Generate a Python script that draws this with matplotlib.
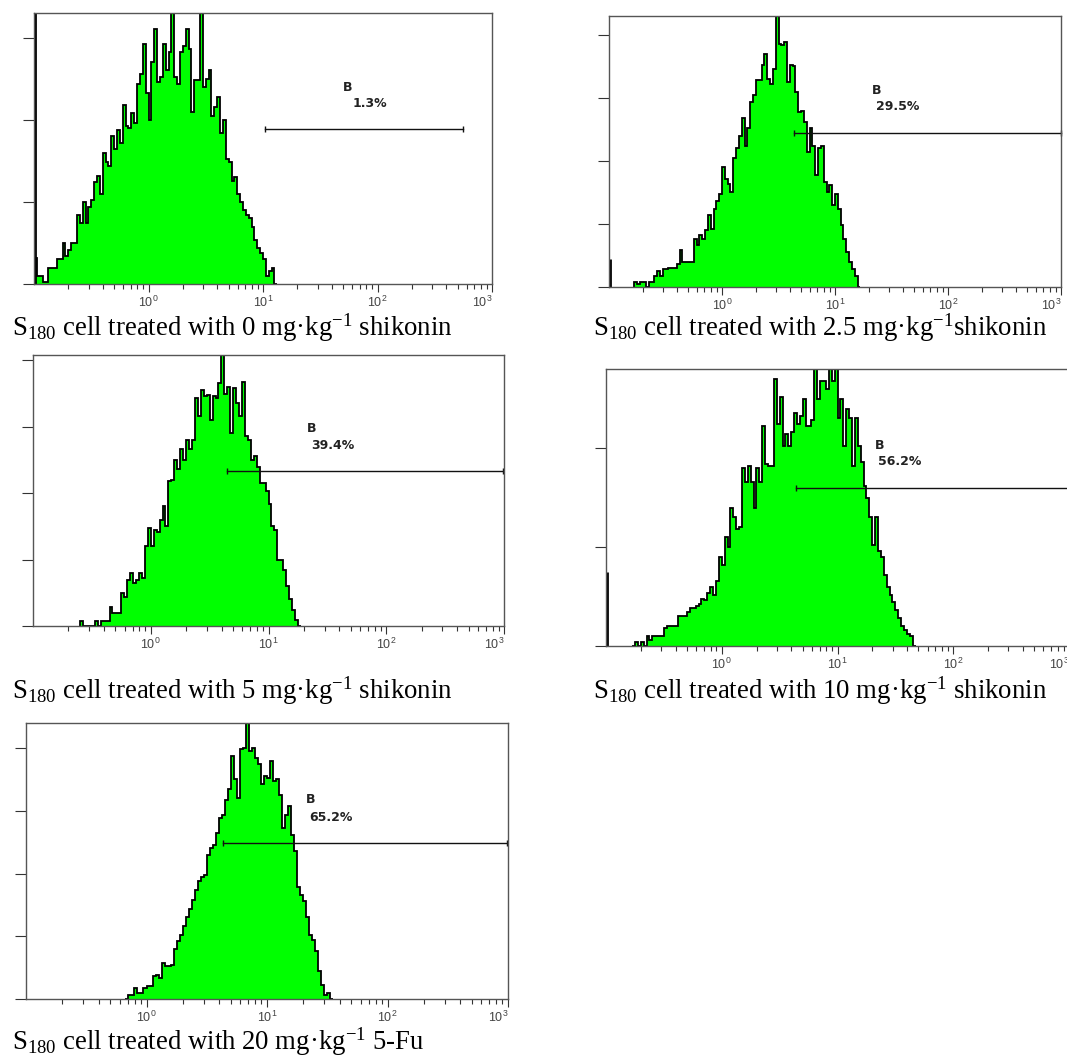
import numpy as np
import matplotlib
matplotlib.use("Agg")
import matplotlib.pyplot as plt
from matplotlib.ticker import FixedLocator, LogLocator, NullFormatter, FixedFormatter

plt.rcParams['mathtext.fontset'] = 'custom'
plt.rcParams['mathtext.rm'] = 'Liberation Serif'
plt.rcParams['mathtext.it'] = 'Liberation Serif:italic'
plt.rcParams['mathtext.sf'] = 'Liberation Sans'

# histogram bins: log10 fluorescence, 0.025 decade per bin, bin 0 starts at 10^-1
log_start = -1.0
log_step = 0.025

# counts, listed from bin index first_bin[i]
counts_0mg = [16, 5, 5, 1, 1, 10, 10, 10, 15, 15, 25, 17, 21, 25, 25, 42, 37, 50, 37, 47,
              51, 62, 66, 55, 80, 74, 72, 90, 82, 94, 86, 109, 96, 95, 104, 98, 122, 128,
              146, 116, 100, 135, 155, 123, 126, 146, 130, 141, 170, 126, 122, 141, 145,
              155, 143, 105, 124, 124, 170, 120, 125, 130, 102, 108, 114, 92, 100, 76, 74,
              63, 65, 55, 50, 45, 42, 40, 35, 27, 22, 19, 15, 5, 8, 10, 0]
counts_2_5mg = [4, 2, 4, 4, 0, 4, 4, 9, 13, 9, 14, 14, 15, 15, 15, 18, 29, 20, 20, 20,
                20, 38, 33, 41, 38, 45, 57, 46, 62, 68, 74, 95, 86, 82, 75, 102, 110, 120,
                134, 112, 126, 147, 152, 164, 164, 176, 185, 165, 161, 173, 225, 193, 192,
                194, 163, 176, 175, 155, 139, 140, 131, 107, 126, 112, 89, 110, 112, 83,
                75, 81, 65, 74, 62, 49, 38, 28, 20, 14, 9, 0]
counts_5mg = [4, 0, 0, 0, 0, 4, 0, 4, 4, 4, 14, 10, 10, 10, 25, 22, 35, 40, 32, 35, 40,
              36, 60, 74, 60, 72, 71, 80, 90, 75, 109, 110, 125, 118, 133, 125, 140, 133,
              140, 172, 158, 178, 173, 174, 155, 173, 172, 183, 205, 175, 180, 145, 179,
              168, 158, 184, 143, 140, 125, 128, 120, 108, 108, 102, 92, 75, 72, 50, 50,
              42, 30, 20, 12, 4.5, 0]
counts_10mg = [0, 2, 0, 2, 0, 5, 3, 5, 5, 5, 5, 9, 10, 10, 10, 10, 15, 15, 15, 17, 19,
               19, 20, 21, 24, 23, 27, 30, 26, 33, 45, 41, 55, 50, 70, 65, 59, 60, 90, 83,
               91, 83, 70, 90, 83, 111, 92, 91, 91, 135, 112, 126, 101, 107, 101, 108,
               118, 112, 116, 125, 111, 111, 114, 145, 125, 134, 134, 130, 145, 134, 145,
               115, 125, 101, 120, 115, 91, 115, 101, 93, 81, 75, 65, 51, 65, 48, 45, 36,
               30, 26, 22, 18, 14, 10, 8, 6, 5, 0]
counts_5fu = [0, 3.5, 3.5, 9, 5, 5, 9, 10, 10, 18, 19, 17, 29, 26, 26, 27, 40, 46, 51, 58,
              65, 72, 79, 87, 94, 97, 99, 115, 120, 123, 132, 144, 147, 159, 167, 194, 175,
              160, 199, 200, 225, 198, 200, 192, 187, 171, 178, 176, 190, 174, 175, 163,
              136, 147, 154, 131, 118, 89, 83, 78, 65, 51, 47, 38, 22, 11, 3.5, 5, 0]
first_bin = [0, 9, 16, 9, 33]

# first-channel pile-up (counts, 0 = none)
first_channel = [300, 22, 0, 37.5, 0]

gate_low = [10.4, 4.3, 4.4, 4.35, 4.35]
gate_high = [560, 990, 990, 1000, 990]
gate_level = [94.5, 122, 117, 80, 124.6]
gate_pct = ['1.3%', '29.5%', '39.4%', '56.2%', '65.2%']
label_pos = [(50, 119.5, 60, 110), (21, 155.6, 23, 143), (21, 149, 23, 136),
             (21, 101.5, 22.5, 93.4), (21, 159, 22.6, 145)]
y_top = [165, 215, 204, 140, 220]
doses = ['0 mg·kg$^{\\mathrm{-1}}$ shikonin',
         '2.5 mg·kg$^{\\mathrm{-1}}$shikonin',
         '5 mg·kg$^{\\mathrm{-1}}$ shikonin',
         '10 mg·kg$^{\\mathrm{-1}}$ shikonin',
         '20 mg·kg$^{\\mathrm{-1}}$ 5-Fu']
all_counts = [counts_0mg, counts_2_5mg, counts_5mg, counts_10mg, counts_5fu]

W, H = 1067, 1058
fig = plt.figure(figsize=(W / 100, H / 100), dpi=100)

# axes boxes in pixels: x0, x1, y_top, y_bottom
boxes = [(34, 492, 13, 284), (609, 1061, 16, 287), (33, 504, 355, 626),
         (606, 1069, 369, 646), (26, 508, 723, 999)]
captions_px = [(12, 336), (593, 336), (12, 699), (593, 699), (12, 1050)]

green = '#00ff00'
for i in range(5):
    x0, x1, yt, yb = boxes[i]
    ax = fig.add_axes([x0 / W, 1 - yb / H, (x1 - x0) / W, (yb - yt) / H])
    c = np.array(all_counts[i], dtype=float)
    edges = 10 ** (log_start + log_step * (first_bin[i] + np.arange(len(c) + 1)))
    ax.stairs(c, edges, fill=True, color=green, lw=0)
    ax.stairs(c, edges, color='black', lw=1.3)
    if first_channel[i] > 0:
        ax.vlines(10 ** -0.99, 0, first_channel[i], color='black', lw=2)

    ax.set_xscale('log')
    ax.set_xlim(0.1, 1000)
    ax.set_ylim(0, y_top[i])

    # gate marker
    ax.plot([gate_low[i], gate_high[i]], [gate_level[i]] * 2, color='#111', lw=1,
            marker='|', ms=5, mew=1, clip_on=False)
    bx, by, px, py = label_pos[i]
    ax.text(bx, by, 'B', fontsize=9, fontweight='bold', family='DejaVu Sans',
            ha='left', va='center', color='#222')
    ax.text(px, py, gate_pct[i], fontsize=9, fontweight='bold', family='DejaVu Sans',
            ha='left', va='center', color='#222')

    ax.xaxis.set_major_locator(FixedLocator([1, 10, 100, 1000]))
    ax.xaxis.set_major_formatter(FixedFormatter([r'$\mathsf{10^{0}}$', r'$\mathsf{10^{1}}$',
                                                 r'$\mathsf{10^{2}}$', r'$\mathsf{10^{3}}$']))
    ax.xaxis.set_minor_locator(LogLocator(base=10, subs=np.arange(2, 10)))
    ax.xaxis.set_minor_formatter(NullFormatter())
    ax.set_yticks(np.arange(0, y_top[i], 50))
    ax.set_yticklabels([])
    ax.tick_params(axis='x', which='major', length=6, width=0.8, color='#333',
                   labelsize=9, labelcolor='#444', pad=2)
    ax.tick_params(axis='x', which='minor', length=3.6, width=0.8, color='#333')
    ax.tick_params(axis='y', length=8, width=0.8, color='#333')
    fig.canvas.draw_idle()
    ax.get_xticklabels()[-1].set_ha('right')
    for s in ax.spines.values():
        s.set_color('#555')
        s.set_linewidth(1)

    cx, cy = captions_px[i]
    fig.text(cx / W, 1 - cy / H, 'S$_{\\mathrm{180}}$ cell treated with ' + doses[i],
             fontsize=19.3, family='Liberation Serif', va='baseline', ha='left')

fig.savefig('out.png', dpi=100)
